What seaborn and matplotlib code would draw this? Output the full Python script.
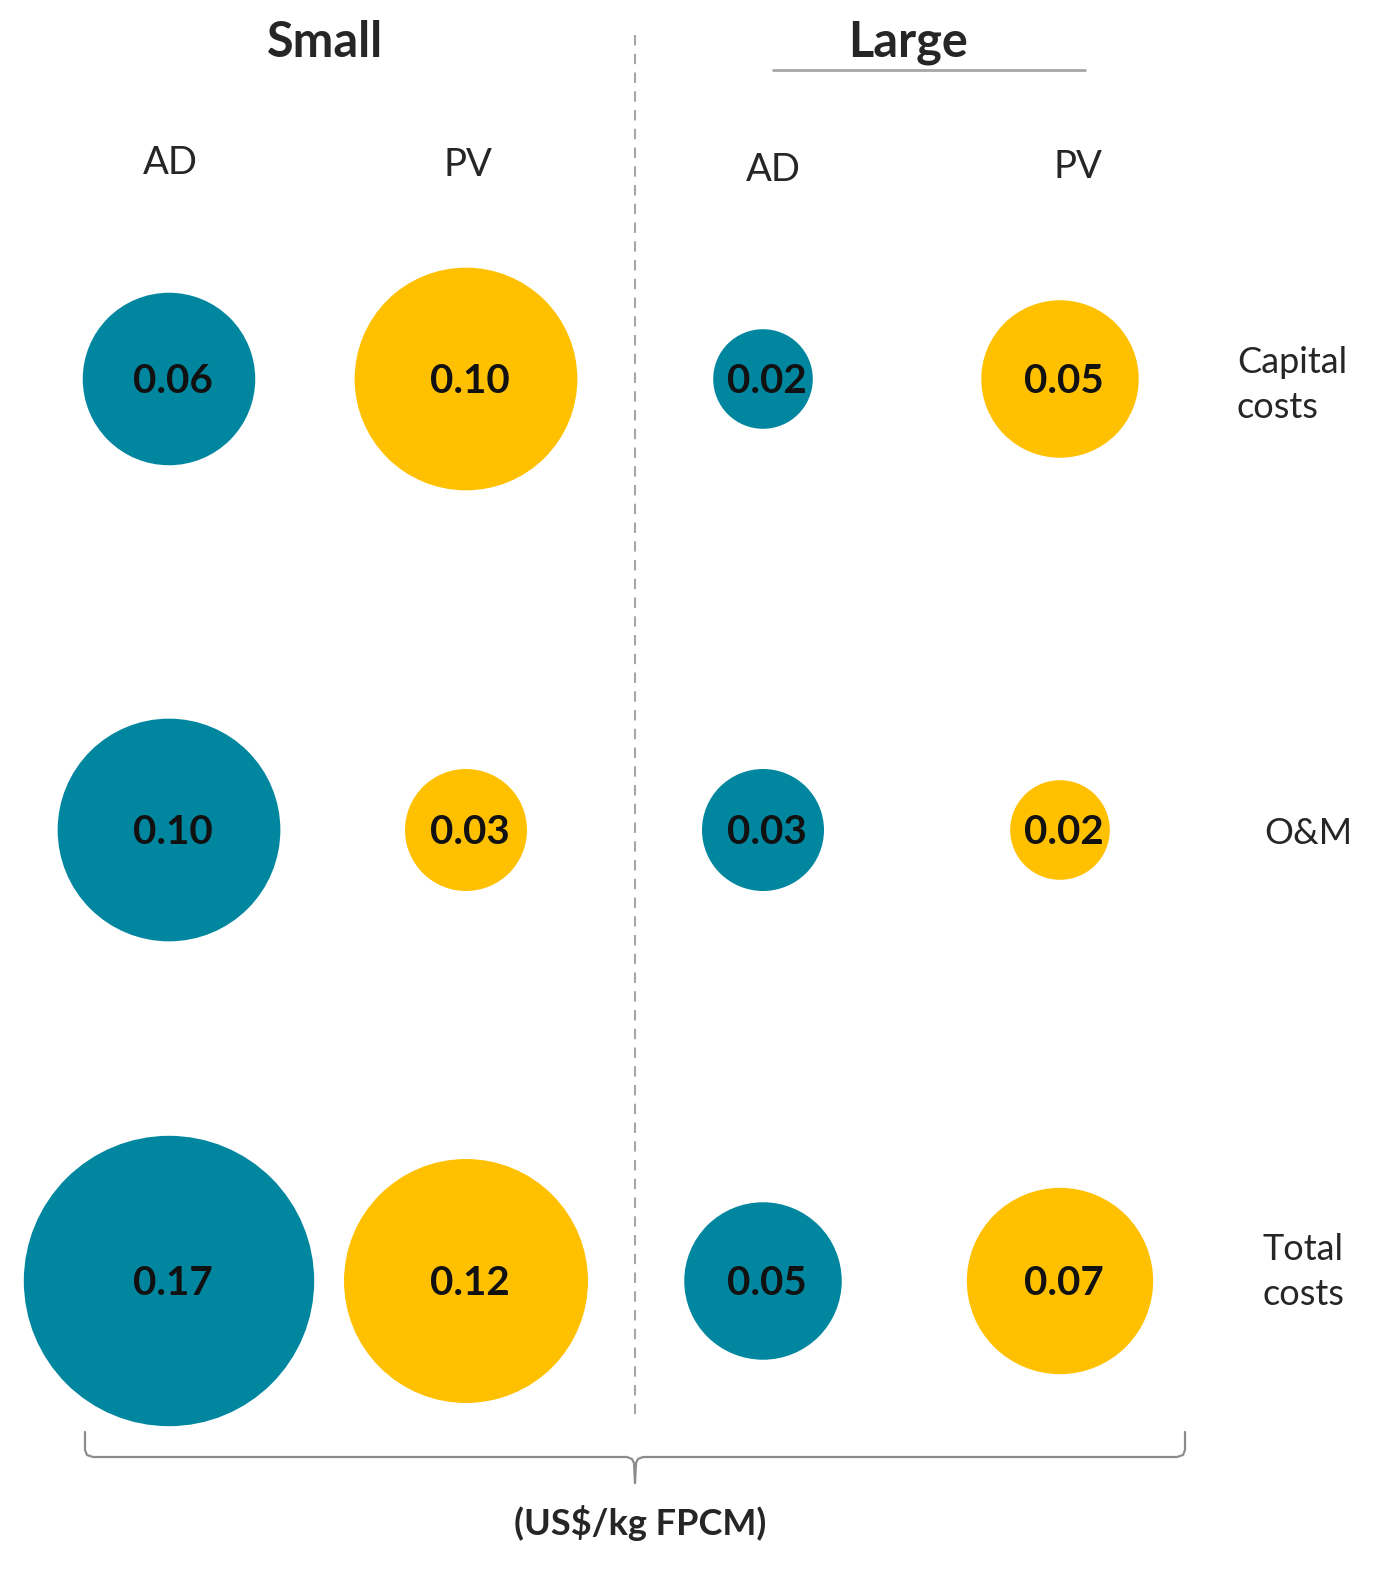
import numpy as np
import pandas as pd
import matplotlib.pyplot as plt
import seaborn as sns

# datos
tamanos = ["Small", "Small", "Large", "Large"]
tecnologias = ["AD", "PV", "AD", "PV"]
filas = ["Capital\ncosts", "O&M", "Total\ncosts"]
capital = [0.06, 0.10, 0.02, 0.05]
oym = [0.10, 0.03, 0.03, 0.02]
total = [0.17, 0.12, 0.05, 0.07]
colores = {"AD": "#00879F", "PV": "#FFC000"}

valores = [capital, oym, total]
registros = []
for i, fila in enumerate(filas):
    for j, v in enumerate(valores[i]):
        registros.append({"col": j, "row": i, "tech": tecnologias[j], "valor": v})
df = pd.DataFrame(registros)

sns.set_theme(style="white")
plt.rcParams["font.family"] = ["Lato", "DejaVu Sans"]

W, H = 1382, 1576
fig = plt.figure(figsize=(W / 100, H / 100), dpi=100)

# ejes de las burbujas (indices de columna / fila)
ax = fig.add_axes([0, 0, 1, 1])
dx, dy = 297, 451
x0, y0 = 169, 379
ax.set_xlim(-x0 / dx, (W - x0) / dx)
ax.set_ylim((H - y0) / dy, -y0 / dy)
ax.axis("off")

vmax = max(total)
smax = (2 * np.sqrt(124000 * vmax) * 0.72) ** 2
sns.scatterplot(
    data=df, x="col", y="row", hue="tech", palette=colores,
    size="valor", sizes=(0, smax), size_norm=(0, vmax),
    linewidth=0, legend=False, ax=ax, zorder=2
)
for _, r in df.iterrows():
    ax.text(r["col"] + 0.012, r["row"] + 0.006, f"{r['valor']:.2f}",
            ha="center", va="center", fontsize=29, fontweight="bold",
            color="#111111", zorder=3)

# capa de decoracion en pixeles
deco = fig.add_axes([0, 0, 1, 1], facecolor="none")
deco.set_xlim(0, W)
deco.set_ylim(H, 0)
deco.axis("off")

deco.text(325, 42, "Small", ha="center", va="center", fontsize=35, fontweight="bold")
deco.text(908, 42, "Large", ha="center", va="center", fontsize=35, fontweight="bold")
deco.plot([773, 1085], [70, 70], color="#A6A6A6", lw=2)

for x, y, t in [(170, 163, "AD"), (468, 165, "PV"), (773, 170, "AD"), (1078, 167, "PV")]:
    deco.text(x, y, t, ha="center", va="center", fontsize=27.5)

deco.text(1237, 385, filas[0], ha="left", va="center", fontsize=26, linespacing=1.45)
deco.text(1308, 833, filas[1], ha="center", va="center", fontsize=26)
deco.text(1263, 1272, filas[2], ha="left", va="center", fontsize=26, linespacing=1.45)

deco.plot([635, 635], [35, 1420], color="#A6A6A6", lw=1.5, ls=(0, (5, 4)))

# llave inferior
gris = "#8C8C8C"
deco.plot([85, 85, 87, 93, 627, 632, 634, 635], [1432, 1450, 1455, 1457, 1457, 1459, 1463, 1483],
          color=gris, lw=1.6, solid_capstyle="round")
deco.plot([1185, 1185, 1183, 1177, 643, 638, 636, 635], [1432, 1450, 1455, 1457, 1457, 1459, 1463, 1483],
          color=gris, lw=1.6, solid_capstyle="round")

deco.text(640, 1523, "(US$/kg FPCM)", ha="center", va="center", fontsize=26, fontweight="bold")

fig.savefig("out.png", dpi=100)
